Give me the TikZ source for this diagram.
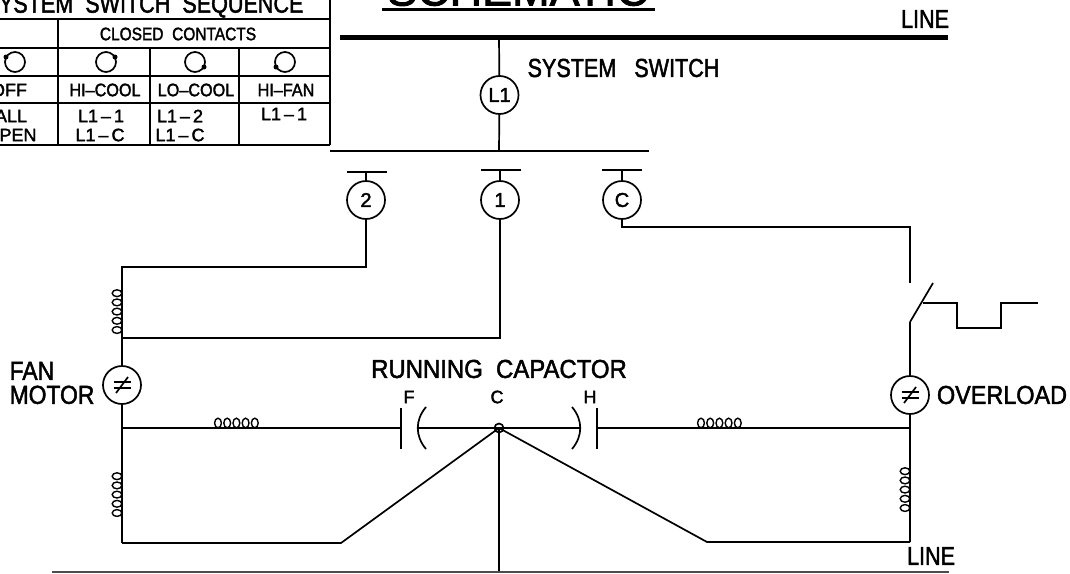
\documentclass[tikz,border=0pt]{standalone}
\usepackage{fontspec}
\setmainfont{Liberation Sans}[RawFeature={embolden=2}]
\usetikzlibrary{positioning}
\tikzset{
	wire/.style={line width=1.7pt, line join=miter},
	termnode/.style={circle, draw, line width=1.7pt, minimum size=38pt, inner sep=0pt, font=\fontsize{20}{22}\selectfont},
	biglabel/.style={inner sep=0pt, font=\fontsize{26}{28}\selectfont},
	smalllabel/.style={inner sep=0pt, font=\fontsize{18}{20}\selectfont},
	narrowtext/.style={xscale=.83, transform shape},
	coilmark/.pic={
		\foreach \i in {0,...,4}
			\draw[line width=1.4pt] (4+9.2*\i,-5) ellipse (3.4 and 4.8);
	},
	neqmark/.pic={
		\draw[line width=1.7pt] (-8.5,-3)--(8.5,-3);
		\draw[line width=1.7pt] (-8.5,3)--(8.5,3);
		\draw[line width=1.7pt] (-6,8)--(6,-8);
	}
}
\begin{document}
\begin{tikzpicture}[x=1pt,y=-1pt]
	\useasboundingbox (0,0) rectangle (1070,573);
	\clip (0,0) rectangle (1070,573);

	% sequence table
	\draw[wire] (0,19)--(330,19);
	\draw[wire] (0,48)--(330,48);
	\draw[wire] (0,76)--(330,76);
	\draw[wire] (0,103)--(330,103);
	\draw[wire] (0,145)--(330,145);
	\draw[wire] (330,0)--(330,145);
	\draw[wire] (58,19)--(58,145);
	\draw[wire] (150,48)--(150,145);
	\draw[wire] (239,48)--(239,145);

	\node[biglabel, narrowtext] (seqtitle) at (144,6) {SYSTEM\ \ SWITCH\ \ SEQUENCE};
	\node[smalllabel, xscale=.86, transform shape] (closedhead) at (178,34) {CLOSED\ \ CONTACTS};

	\draw[wire] (15,62) circle (10);
	\draw[wire] (106,62) circle (10);
	\draw[wire] (195,62) circle (10);
	\draw[wire] (285,62) circle (10);
	\fill (6,57) circle (2.5);
	\fill (115,57) circle (2.5);
	\fill (204,67) circle (2.5);
	\fill (276,67) circle (2.5);

	\node[smalllabel] (offhead) at (9,90) {OFF};
	\node[smalllabel, xscale=.9, transform shape] (hicool) at (105,90) {HI--COOL};
	\node[smalllabel, xscale=.9, transform shape] (locool) at (196,90) {LO--COOL};
	\node[smalllabel, xscale=.9, transform shape] (hifan) at (286,90) {HI--FAN};
	\node[smalllabel] (allopen) at (11,116) {ALL};
	\node[smalllabel] (allopenb) at (11,135) {OPEN};
	\node[smalllabel] (hicoola) at (101,116) {L1\,--\,1};
	\node[smalllabel] (hicoolb) at (100,135) {L1\,--\,C};
	\node[smalllabel] (locoola) at (180,116) {L1\,--\,2};
	\node[smalllabel] (locoolb) at (180,135) {L1\,--\,C};
	\node[smalllabel] (hifana) at (284,114) {L1\,--\,1};

	% title and line
	\node[font=\fontsize{45}{48}\selectfont, inner sep=0pt, anchor=base] (schematic) at (518,5.5) {SCHEMATIC};
	\draw[line width=3pt] (382,9.5)--(655,9.5);
	\draw[line width=4.2pt] (340,37.5)--(948,37.5);
	\node[biglabel, narrowtext] (linetop) at (925,19) {LINE};

	% switch
	\coordinate (topbus) at (499,37);
	\node[termnode] (Lone) at (499.5,95) {L1};
	\coordinate (lowbus) at (499,151);
	\draw[wire] (topbus)--(Lone);
	\draw[wire] (Lone)--(lowbus);
	\draw[line width=2pt] (330,151)--(649,151);
	\node[biglabel, narrowtext, anchor=center] (syslabel) at (623.5,68) {SYSTEM\ \ \ SWITCH};

	% contacts
	\node[termnode] (ctwo) at (366,200) {2};
	\node[termnode] (cone) at (500,200) {1};
	\node[termnode] (cc) at (622,200) {C};
	\coordinate (bartwo) at (366,172);
	\coordinate (barone) at (500,170);
	\coordinate (barc) at (622,170);
	\draw[wire] (347,172)--(387,172);
	\draw[wire] (481,170)--(521,170);
	\draw[wire] (602,170)--(642,170);
	\draw[wire] (bartwo)--(ctwo);
	\draw[wire] (barone)--(cone);
	\draw[wire] (barc)--(cc);

	% left side
	\coordinate (fantop) at (122,267);
	\coordinate (fanjoin) at (122,338);
	\node[termnode] (fan) at (122,385) {};
	\coordinate (fancap) at (122,428);
	\coordinate (fanlow) at (122,543);
	\draw[wire] (ctwo)--(366,267)--(fantop)--(fanjoin);
	\draw[wire] (cone)--(500,338)--(fanjoin);
	\draw[wire] (fanjoin)--(fan);
	\draw[wire] (fan)--(fanlow);
	\pic at (fan) {neqmark};
	\pic[rotate=90] at (122,334) {coilmark};
	\pic[rotate=90] at (122,517) {coilmark};
	\pic at (214,428) {coilmark};
	\node[biglabel, xscale=.88, transform shape, align=left, anchor=center, font=\fontsize{26}{24}\selectfont] (fanlabel) at (52,383) {FAN\\MOTOR};

	% capacitor
	\coordinate (capF) at (401,428);
	\coordinate (capH) at (597,428);
	\coordinate (capC) at (499,428);
	\node[smalllabel] (Flabel) at (409,397) {F};
	\node[smalllabel] (Clabel) at (497,397) {C};
	\node[smalllabel] (Hlabel) at (590,397) {H};
	\node[biglabel, xscale=.92, transform shape] (caplabel) at (499,369) {RUNNING\ \ CAPACTOR};
	\draw[wire] (401,408)--(401,449);
	\draw[wire] (597,408)--(597,449);
	\draw[wire] (426,407) .. controls (415,420) and (415,436) .. (426,449);
	\draw[wire] (572,407) .. controls (583,420) and (583,436) .. (572,449);
	\draw[wire] (fancap)--(capF);
	\draw[wire] (418,428)--(580,428);
	\draw[wire] (capH)--(910,428);
	\draw[wire] (capC) circle (4.5);
	\pic at (697,428) {coilmark};

	% right side
	\coordinate (rlow) at (910,542);
	\coordinate (swtop) at (910,283);
	\coordinate (swbot) at (910,322);
	\coordinate (swarm) at (933,283);
	\node[termnode] (over) at (910,395) {};
	\draw[wire] (cc)--(622,227)--(910,227)--(swtop);
	\draw[wire] (swbot)--(swarm);
	\draw[wire] (923,303)--(957,303)--(957,328)--(1001,328)--(1001,303)--(1038,303);
	\draw[wire] (swbot)--(over);
	\draw[wire] (over)--(rlow);
	\pic at (over) {neqmark};
	\pic[rotate=90] at (910,512) {coilmark};
	\node[biglabel, xscale=.9, transform shape, anchor=center] (overlabel) at (1002,395) {OVERLOAD};

	% bottom
	\draw[wire] (fanlow)--(341,543)--(capC);
	\draw[wire] (rlow)--(707,542)--(capC);
	\coordinate (botline) at (499,572);
	\draw[line width=1.2pt] (capC)--(botline);
	\draw[line width=1.2pt, black!70] (52,572)--(949,572);
	\node[biglabel, narrowtext] (linebot) at (931,556) {LINE};
\end{tikzpicture}
\end{document}
